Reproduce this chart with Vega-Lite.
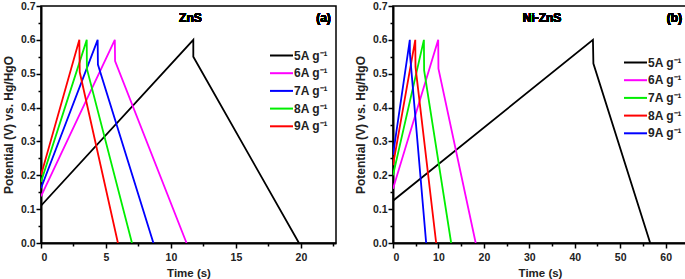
{
  "$schema": "https://vega.github.io/schema/vega-lite/v6.json",
  "padding": {"left": 1, "top": 0, "right": 0, "bottom": 0},
  "spacing": 16,
  "datasets": {
    "zns": [
      {"s": "5A g⁻¹", "i": 1, "t": 0, "v": 0.11},
      {"s": "5A g⁻¹", "i": 2, "t": 11.72, "v": 0.6},
      {"s": "5A g⁻¹", "i": 3, "t": 11.72, "v": 0.55},
      {"s": "5A g⁻¹", "i": 4, "t": 19.85, "v": 0},
      {"s": "6A g⁻¹", "i": 1, "t": 0, "v": 0.138},
      {"s": "6A g⁻¹", "i": 2, "t": 5.68, "v": 0.6},
      {"s": "6A g⁻¹", "i": 3, "t": 5.7, "v": 0.537},
      {"s": "6A g⁻¹", "i": 4, "t": 11.2, "v": 0},
      {"s": "7A g⁻¹", "i": 1, "t": 0, "v": 0.162},
      {"s": "7A g⁻¹", "i": 2, "t": 4.36, "v": 0.6},
      {"s": "7A g⁻¹", "i": 3, "t": 4.38, "v": 0.527},
      {"s": "7A g⁻¹", "i": 4, "t": 8.65, "v": 0},
      {"s": "8A g⁻¹", "i": 1, "t": 0, "v": 0.18},
      {"s": "8A g⁻¹", "i": 2, "t": 3.52, "v": 0.6},
      {"s": "8A g⁻¹", "i": 3, "t": 3.53, "v": 0.515},
      {"s": "8A g⁻¹", "i": 4, "t": 7.0, "v": 0},
      {"s": "9A g⁻¹", "i": 1, "t": 0, "v": 0.2},
      {"s": "9A g⁻¹", "i": 2, "t": 2.95, "v": 0.6},
      {"s": "9A g⁻¹", "i": 3, "t": 2.98, "v": 0.505},
      {"s": "9A g⁻¹", "i": 4, "t": 5.92, "v": 0}
    ],
    "nizns": [
      {"s": "5A g⁻¹", "i": 1, "t": 0, "v": 0.125},
      {"s": "5A g⁻¹", "i": 2, "t": 44.0, "v": 0.6},
      {"s": "5A g⁻¹", "i": 3, "t": 44.1, "v": 0.53},
      {"s": "5A g⁻¹", "i": 4, "t": 56.6, "v": 0},
      {"s": "6A g⁻¹", "i": 1, "t": 0, "v": 0.16},
      {"s": "6A g⁻¹", "i": 2, "t": 9.95, "v": 0.6},
      {"s": "6A g⁻¹", "i": 3, "t": 10.0, "v": 0.515},
      {"s": "6A g⁻¹", "i": 4, "t": 18.2, "v": 0},
      {"s": "7A g⁻¹", "i": 1, "t": 0, "v": 0.2},
      {"s": "7A g⁻¹", "i": 2, "t": 6.8, "v": 0.6},
      {"s": "7A g⁻¹", "i": 3, "t": 6.85, "v": 0.51},
      {"s": "7A g⁻¹", "i": 4, "t": 12.8, "v": 0},
      {"s": "8A g⁻¹", "i": 1, "t": 0, "v": 0.23},
      {"s": "8A g⁻¹", "i": 2, "t": 4.9, "v": 0.6},
      {"s": "8A g⁻¹", "i": 3, "t": 4.95, "v": 0.52},
      {"s": "8A g⁻¹", "i": 4, "t": 9.5, "v": 0},
      {"s": "9A g⁻¹", "i": 1, "t": 0, "v": 0.26},
      {"s": "9A g⁻¹", "i": 2, "t": 3.7, "v": 0.6},
      {"s": "9A g⁻¹", "i": 3, "t": 3.72, "v": 0.56},
      {"s": "9A g⁻¹", "i": 4, "t": 7.3, "v": 0}
    ]
  },
  "hconcat": [
    {
      "width": 295,
      "height": 237,
      "data": {"name": "zns"},
      "resolve": {"axis": {"x": "independent", "y": "independent"}},
      "layer": [
        {
          "mark": {"type": "line", "strokeWidth": 1.8, "clip": true},
          "encoding": {
            "x": {"field": "t", "type": "quantitative", "title": "Time (s)",
              "scale": {"domain": [0, 22.7], "nice": false, "zero": false},
              "axis": {"values": [0, 5, 10, 15, 20], "format": "d", "orient": "bottom", "labelPadding": 4, "titlePadding": 5, "titleFontSize": 11.5}},
            "y": {"field": "v", "type": "quantitative", "title": "Potential (V) vs. Hg/HgO",
              "scale": {"domain": [0, 0.7], "nice": false},
              "axis": {"values": [0, 0.1, 0.2, 0.3, 0.4, 0.5, 0.6, 0.7], "format": ".1f", "orient": "left", "labelPadding": 1, "titlePadding": 5, "titleFontSize": 12}},
            "order": {"field": "i"},
            "color": {"field": "s", "type": "nominal", "title": null,
              "scale": {"domain": ["5A g⁻¹", "6A g⁻¹", "7A g⁻¹", "8A g⁻¹", "9A g⁻¹"],
                "range": ["#000000", "#ff00ff", "#0000ff", "#00ee00", "#ff0000"]},
              "legend": {"orient": "none", "legendX": 231, "legendY": 40}}
          }
        },
        {
          "mark": {"type": "line", "opacity": 0},
          "encoding": {
            "x": {"field": "t", "type": "quantitative",
              "axis": {"values": [2.5, 7.5, 12.5, 17.5, 22.5], "labels": false, "domain": false, "title": null, "tickSize": 3, "orient": "bottom", "grid": false}},
            "y": {"field": "v", "type": "quantitative",
              "axis": {"values": [0.05, 0.15, 0.25, 0.35, 0.45, 0.55, 0.65], "labels": false, "domain": false, "title": null, "tickSize": 3, "orient": "left", "grid": false}}
          }
        },
        {
          "mark": {"type": "text", "font": "Liberation Sans", "fontWeight": "bold", "fontSize": 12, "align": "center", "baseline": "middle"},
          "encoding": {
            "x": {"datum": 11.5, "type": "quantitative", "axis": null},
            "y": {"datum": 0.665, "type": "quantitative", "axis": null},
            "text": {"value": "ZnS"}
          }
        },
        {
          "mark": {"type": "text", "font": "Liberation Sans", "fontWeight": "bold", "fontSize": 12, "align": "right", "baseline": "middle"},
          "encoding": {
            "x": {"datum": 22.3, "type": "quantitative", "axis": null},
            "y": {"datum": 0.665, "type": "quantitative", "axis": null},
            "text": {"value": "(a)"}
          }
        }
      ]
    },
    {
      "width": 294,
      "height": 237,
      "data": {"name": "nizns"},
      "resolve": {"axis": {"x": "independent", "y": "independent"}},
      "layer": [
        {
          "mark": {"type": "line", "strokeWidth": 1.8, "clip": true},
          "encoding": {
            "x": {"field": "t", "type": "quantitative", "title": "Time (s)",
              "scale": {"domain": [0, 64.7], "nice": false, "zero": false},
              "axis": {"values": [0, 10, 20, 30, 40, 50, 60], "format": "d", "orient": "bottom", "labelPadding": 4, "titlePadding": 5, "titleFontSize": 11.5}},
            "y": {"field": "v", "type": "quantitative", "title": "Potential (V) vs. Hg/HgO",
              "scale": {"domain": [0, 0.7], "nice": false},
              "axis": {"values": [0, 0.1, 0.2, 0.3, 0.4, 0.5, 0.6, 0.7], "format": ".1f", "orient": "left", "labelPadding": 1, "titlePadding": 5, "titleFontSize": 12}},
            "order": {"field": "i"},
            "color": {"field": "s", "type": "nominal", "title": null,
              "scale": {"domain": ["5A g⁻¹", "6A g⁻¹", "7A g⁻¹", "8A g⁻¹", "9A g⁻¹"],
                "range": ["#000000", "#ff00ff", "#00ee00", "#ff0000", "#0000ff"]},
              "legend": {"orient": "none", "legendX": 233, "legendY": 47}}
          }
        },
        {
          "mark": {"type": "line", "opacity": 0},
          "encoding": {
            "x": {"field": "t", "type": "quantitative",
              "axis": {"values": [5, 15, 25, 35, 45, 55], "labels": false, "domain": false, "title": null, "tickSize": 3, "orient": "bottom", "grid": false}},
            "y": {"field": "v", "type": "quantitative",
              "axis": {"values": [0.05, 0.15, 0.25, 0.35, 0.45, 0.55, 0.65], "labels": false, "domain": false, "title": null, "tickSize": 3, "orient": "left", "grid": false}}
          }
        },
        {
          "mark": {"type": "text", "font": "Liberation Sans", "fontWeight": "bold", "fontSize": 12, "align": "center", "baseline": "middle"},
          "encoding": {
            "x": {"datum": 32.8, "type": "quantitative", "axis": null},
            "y": {"datum": 0.665, "type": "quantitative", "axis": null},
            "text": {"value": "Ni-ZnS"}
          }
        },
        {
          "mark": {"type": "text", "font": "Liberation Sans", "fontWeight": "bold", "fontSize": 12, "align": "right", "baseline": "middle"},
          "encoding": {
            "x": {"datum": 63.6, "type": "quantitative", "axis": null},
            "y": {"datum": 0.665, "type": "quantitative", "axis": null},
            "text": {"value": "(b)"}
          }
        }
      ]
    }
  ],
  "resolve": {"scale": {"color": "independent"}, "legend": {"color": "independent"}},
  "config": {
    "view": {"stroke": "#000000", "strokeWidth": 1.5},
    "font": "Liberation Sans",
    "axis": {
      "grid": false,
      "domainColor": "#000000",
      "domainWidth": 2,
      "tickColor": "#000000",
      "tickWidth": 1.5,
      "tickSize": 5,
      "labelFont": "Liberation Sans",
      "labelFontWeight": "bold",
      "labelFontSize": 10.5,
      "labelColor": "#222222",
      "titleFont": "Liberation Sans",
      "titleFontWeight": "bold",
      "titleColor": "#222222"
    },
    "legend": {
      "labelFont": "Liberation Sans",
      "labelFontWeight": "bold",
      "labelFontSize": 12,
      "labelColor": "#222222",
      "symbolType": "M-1.4,0H1.4",
      "symbolSize": 270,
      "symbolStrokeWidth": 2,
      "rowPadding": 1.7,
      "labelOffset": 3
    }
  }
}
